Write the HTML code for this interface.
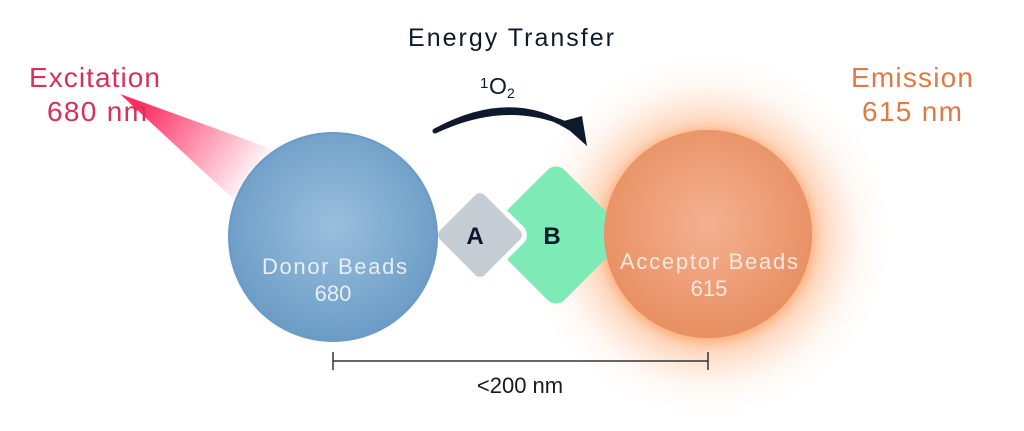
<!DOCTYPE html>
<html><head><meta charset="utf-8"><style>
html,body{margin:0;padding:0;background:#fff;width:1024px;height:431px;overflow:hidden}
svg{display:block}
text{font-family:"Liberation Sans",sans-serif}
</style></head><body>
<svg width="1024" height="431" viewBox="0 0 1024 431" xmlns="http://www.w3.org/2000/svg">
<defs>
<radialGradient id="glow" cx="708" cy="236" r="190" gradientUnits="userSpaceOnUse">
<stop offset="0.5" stop-color="#fb8a3c" stop-opacity="0.85"/>
<stop offset="0.6" stop-color="#fca46a" stop-opacity="0.45"/>
<stop offset="0.8" stop-color="#fdd0b0" stop-opacity="0.15"/>
<stop offset="1" stop-color="#fff" stop-opacity="0"/>
</radialGradient>
<radialGradient id="don" cx="0.5" cy="0.45" r="0.55">
<stop offset="0" stop-color="#9abfdc"/><stop offset="1" stop-color="#6b9cc6"/>
</radialGradient>
<radialGradient id="acc" cx="0.5" cy="0.45" r="0.55">
<stop offset="0" stop-color="#f4b190"/><stop offset="1" stop-color="#e88f62"/>
</radialGradient>
<linearGradient id="beam" x1="140" y1="105" x2="250" y2="180" gradientUnits="userSpaceOnUse">
<stop offset="0" stop-color="#ff2d62"/><stop offset="1" stop-color="#ff2d62" stop-opacity="0.05"/>
</linearGradient>
</defs>
<circle cx="708" cy="236" r="190" fill="url(#glow)"/>
<polygon points="120,94 275,150 245,210" fill="url(#beam)"/>
<rect x="-52" y="-52" width="104" height="104" rx="12" fill="#7eeab6" transform="translate(556,235) rotate(45)"/>
<rect x="-34" y="-34" width="68" height="68" rx="9" fill="#c5ccd3" stroke="#fff" stroke-width="5" transform="translate(480,235) rotate(45)"/>
<circle cx="333" cy="237" r="104" fill="url(#don)" stroke="#6a9bc6" stroke-width="2"/>
<circle cx="708" cy="234" r="104" fill="url(#acc)"/>
<text x="475" y="244" font-size="24" font-weight="bold" fill="#0e1a2b" text-anchor="middle">A</text>
<text x="552" y="244" font-size="24" font-weight="bold" fill="#0e1a2b" text-anchor="middle">B</text>
<text x="262" y="274" font-size="22" fill="#e8eef3" textLength="145">Donor Beads</text>
<text x="333" y="301" font-size="22" fill="#e8eef3" text-anchor="middle">680</text>
<text x="620" y="269" font-size="22" fill="#f6e8df" textLength="178">Acceptor Beads</text>
<text x="709" y="296" font-size="22" fill="#f6e8df" text-anchor="middle">615</text>
<path d="M435,131 Q510,90 570,128 L566,124 Q505,98 435,131 Z" fill="#0e1a2b" stroke="#0e1a2b" stroke-width="5" stroke-linejoin="round"/>
<polygon points="560,122 582,116 587,146" fill="#0e1a2b"/>
<text x="408" y="46" font-size="25" fill="#0e1a2b" textLength="206">Energy Transfer</text>
<text x="480" y="88" font-size="15" fill="#0e1a2b">1</text>
<text x="489" y="94" font-size="23" fill="#0e1a2b">O</text>
<text x="507" y="98" font-size="14" fill="#0e1a2b">2</text>
<text x="29" y="87" font-size="28" fill="#d8305a" textLength="131">Excitation</text>
<text x="47" y="121" font-size="28" fill="#d8305a" textLength="100">680 nm</text>
<text x="851" y="87" font-size="28" fill="#e07a45" textLength="122">Emission</text>
<text x="862" y="121" font-size="28" fill="#e07a45" textLength="100">615 nm</text>
<line x1="333" y1="361" x2="708" y2="361" stroke="#333" stroke-width="1.5"/>
<line x1="333" y1="352" x2="333" y2="370" stroke="#333" stroke-width="1.5"/>
<line x1="708" y1="352" x2="708" y2="370" stroke="#333" stroke-width="1.5"/>
<text x="520" y="393" font-size="22" fill="#1a1a1a" text-anchor="middle">&lt;200 nm</text>
</svg>
</body></html>
